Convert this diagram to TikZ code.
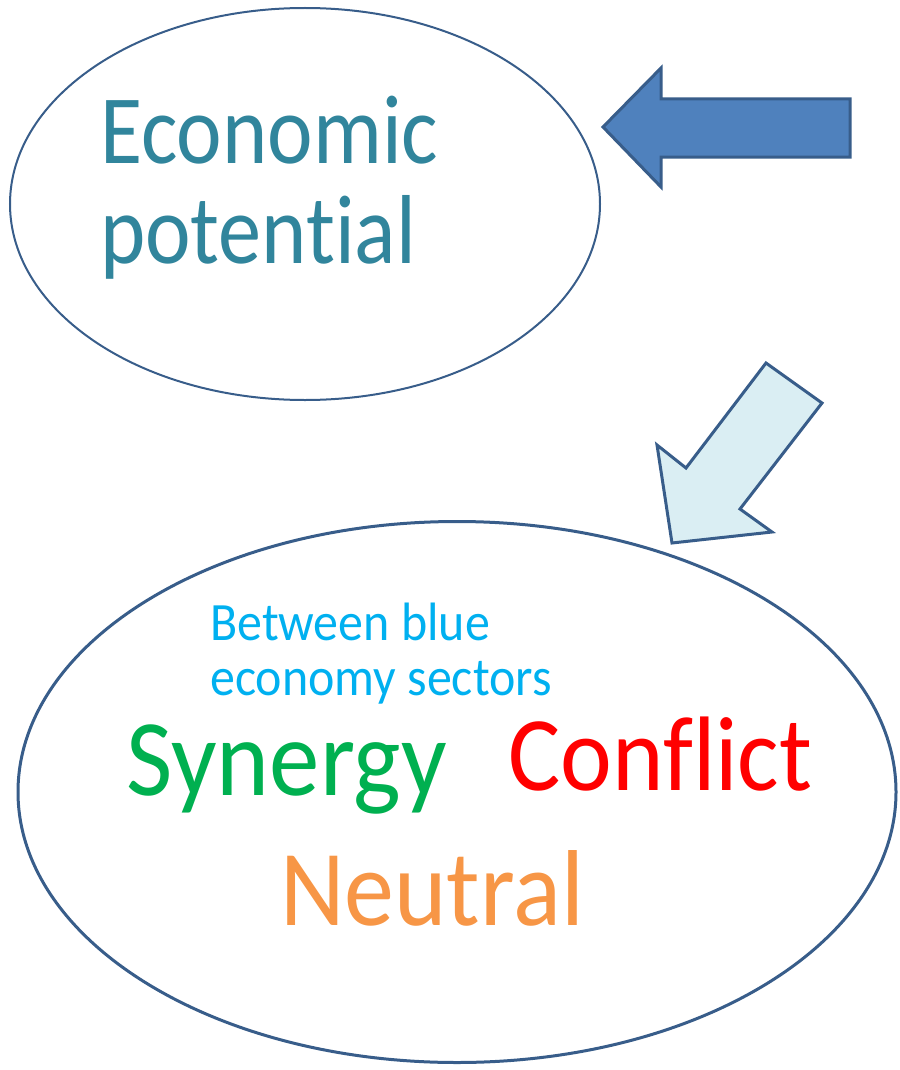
\documentclass[tikz,border=0pt]{standalone}
\usepackage{fontspec}
\setmainfont{Carlito}
\newfontfamily\narrowfont[FakeStretch=0.88,Ligatures={NoCommon}]{Carlito}
\newfontfamily\midfont[FakeStretch=0.925,Ligatures={NoCommon}]{Carlito}
\usetikzlibrary{shapes.geometric}
\definecolor{edgeblue}{HTML}{385D8A}
\definecolor{fillblue}{HTML}{4F81BD}
\definecolor{fillpale}{HTML}{DAEEF3}
\definecolor{teal}{HTML}{31859C}
\definecolor{skyblue}{HTML}{00B0F0}
\definecolor{greenc}{HTML}{00B050}
\definecolor{orangec}{HTML}{F79646}
\tikzset{
  bubble/.style={ellipse, draw=edgeblue, inner sep=0pt},
  label txt/.style={anchor=base west, inner sep=0pt, font=\midfont},
  blockarrow/.style={draw=edgeblue, line width=3pt, line join=miter}
}
\begin{document}
\begin{tikzpicture}[x=1pt,y=-1pt]
\useasboundingbox (0,0) rectangle (899,1070);
\node[bubble, line width=2pt, minimum width=590, minimum height=392] (top) at (305,204) {};
\node[bubble, line width=3pt, minimum width=878, minimum height=541] (bottom) at (457,792) {};
% text top
\node[label txt, text=teal, font=\narrowfont] (econ) at (100,163) {\fontsize{98}{98}\selectfont Economic};
\node[label txt, text=teal, font=\narrowfont] (pot) at (100,263) {\fontsize{98}{98}\selectfont potential};
% text bottom
\node[label txt, text=skyblue] (betw) at (210,640) {\fontsize{54}{54}\selectfont Between blue};
\node[label txt, text=skyblue] (econsec) at (210,695) {\fontsize{54}{54}\selectfont economy sectors};
\node[label txt, text=greenc] (syn) at (126,795) {\fontsize{109}{109}\selectfont Synergy};
\node[label txt, text=red] (conf) at (508,790) {\fontsize{106}{106}\selectfont Conflict};
\node[label txt, text=orangec] (neut) at (280,925) {\fontsize{108}{108}\selectfont Neutral};
% left block arrow
\draw[blockarrow, fill=fillblue] (603,127) -- (661,68) -- (661,99) -- (850,99) -- (850,157) -- (661,157) -- (661,187) -- cycle;
% diagonal block arrow
\draw[blockarrow, fill=fillpale] (766,363) -- (822,403) -- (740,509) -- (772,532) -- (672,543) -- (657,445) -- (686,468) -- cycle;
\end{tikzpicture}
\end{document}
